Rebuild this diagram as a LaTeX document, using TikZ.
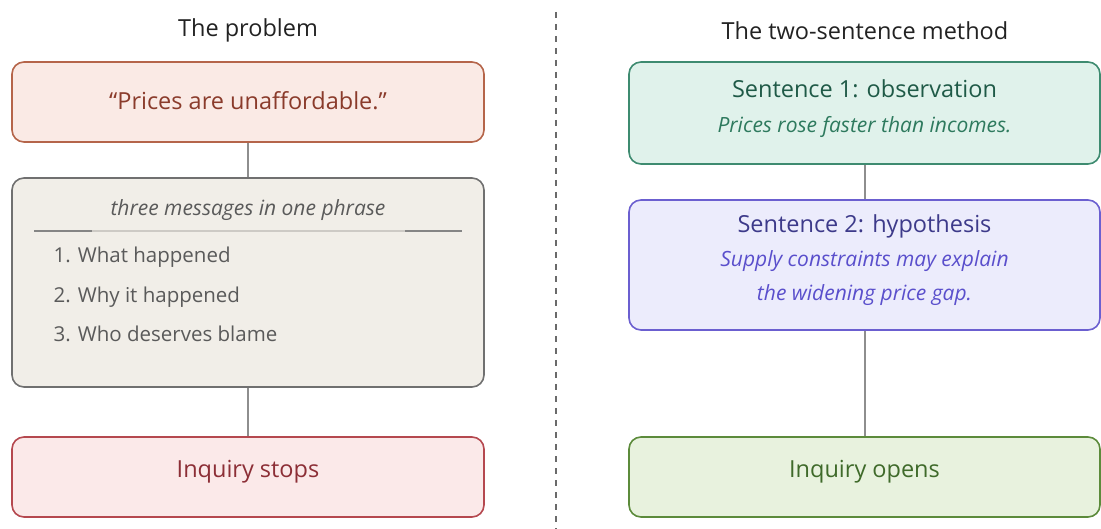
\documentclass[tikz,border=0pt]{standalone}
\usepackage{fontspec}
\setmainfont{Open Sans}
\definecolor{redfill}{HTML}{FAEAE5}
\definecolor{reddraw}{HTML}{B5654A}
\definecolor{redtext}{HTML}{8A3B2B}
\definecolor{grayfill}{HTML}{F1EEE8}
\definecolor{graydraw}{HTML}{707070}
\definecolor{graytext}{HTML}{5A5A5A}
\definecolor{stopfill}{HTML}{FBE9E9}
\definecolor{stopdraw}{HTML}{B5484F}
\definecolor{stoptext}{HTML}{8C2E36}
\definecolor{tealfill}{HTML}{E0F2EB}
\definecolor{tealdraw}{HTML}{3E8B70}
\definecolor{tealhead}{HTML}{1F5A47}
\definecolor{tealtext}{HTML}{2E7A5E}
\definecolor{violfill}{HTML}{ECECFC}
\definecolor{vioddraw}{HTML}{6B5FD0}
\definecolor{violhead}{HTML}{3D3A8A}
\definecolor{violtext}{HTML}{5A4FCC}
\definecolor{greenfill}{HTML}{E8F2DE}
\definecolor{greendraw}{HTML}{5C8B3B}
\definecolor{greentext}{HTML}{3F6A2A}
\definecolor{connline}{HTML}{8E8E8E}
\definecolor{divider}{HTML}{6A6A6A}
\definecolor{titletext}{HTML}{222222}
\begin{document}
\begin{tikzpicture}[x=1pt,y=-1pt,
  box/.style={draw, rounded corners=12pt, line width=1.6pt, inner sep=0pt},
  leftbox/.style={box, minimum width=472pt},
  rightbox/.style={box, minimum width=471pt},
  conn/.style={draw=connline, line width=2pt},
  coltitle/.style={text=titletext, yshift=-2.5pt, font=\fontsize{23.5}{28}\selectfont},
  mainlabel/.style={yshift=-2.5pt, font=\fontsize{23.5}{28}\selectfont},
  sublabel/.style={yshift=-2pt, font=\fontsize{21}{25}\selectfont\itshape},
  listitem/.style={text=graytext, anchor=west, yshift=-2pt, font=\fontsize{20.5}{24}\selectfont}]
\useasboundingbox (0,0) rectangle (1101,529);

% column headings
\node[coltitle] (ltitle) at (248,28) {The problem};
\node[coltitle] (rtitle) at (865,28) {The two-sentence method};

% left column: the problem
\node[leftbox, fill=redfill, draw=reddraw, minimum height=80pt] (quote) at (248,102) {};
\node[mainlabel, text=redtext] (quotetxt) at (248,98) {“Prices are unaffordable.”};

\node[leftbox, fill=grayfill, draw=graydraw, minimum height=209pt] (msgs) at (248,282.5) {};
\node[sublabel, text=graytext] (msgstitle) at (248,208) {three messages in one phrase};
\coordinate (sepL) at (34,231);
\coordinate (sepLi) at (92,231);
\coordinate (sepRi) at (405,231);
\coordinate (sepR) at (462,231);
\draw[draw=grayfill!85!black, line width=1.5pt] (sepL) -- (sepR);
\draw[draw=graydraw!85, line width=2.5pt] (sepL) -- (sepLi);
\draw[draw=graydraw!85, line width=2.5pt] (sepRi) -- (sepR);
\node[listitem] (item1) at (50,255) {1. What happened};
\node[listitem] (item2) at (50,295) {2. Why it happened};
\node[listitem] (item3) at (50,332) {3. Who deserves blame};

\node[leftbox, fill=stopfill, draw=stopdraw, minimum height=80pt] (stops) at (248,477) {};
\node[mainlabel, text=stoptext] (stopstxt) at (248,469) {Inquiry stops};

\draw[conn] (quote.south) -- (msgs.north);
\draw[conn] (msgs.south) -- (stops.north);

% dividing line
\coordinate (divtop) at (556,12);
\coordinate (divbot) at (556,529);
\draw[draw=divider, line width=2pt, dash pattern=on 6pt off 6pt] (divtop) -- (divbot);

% right column: the two-sentence method
\node[rightbox, fill=tealfill, draw=tealdraw, minimum height=102pt] (obs) at (864.5,113) {};
\node[mainlabel, text=tealhead] (obshead) at (864.5,86) {Sentence 1: observation};
\node[sublabel, text=tealtext] (obstxt) at (864.5,125) {Prices rose faster than incomes.};

\node[rightbox, fill=violfill, draw=vioddraw, minimum height=130pt] (hyp) at (864.5,265) {};
\node[mainlabel, text=violhead] (hyphead) at (864.5,224) {Sentence 2: hypothesis};
\node[sublabel, text=violtext, align=center] (hyptxt) at (864.5,276)
  {Supply constraints may explain\\[9pt]the widening price gap.};

\node[rightbox, fill=greenfill, draw=greendraw, minimum height=80pt] (opens) at (864.5,477) {};
\node[mainlabel, text=greentext] (openstxt) at (864.5,469) {Inquiry opens};

\draw[conn] (obs.south) -- (hyp.north);
\draw[conn] (hyp.south) -- (opens.north);
\end{tikzpicture}
\end{document}
